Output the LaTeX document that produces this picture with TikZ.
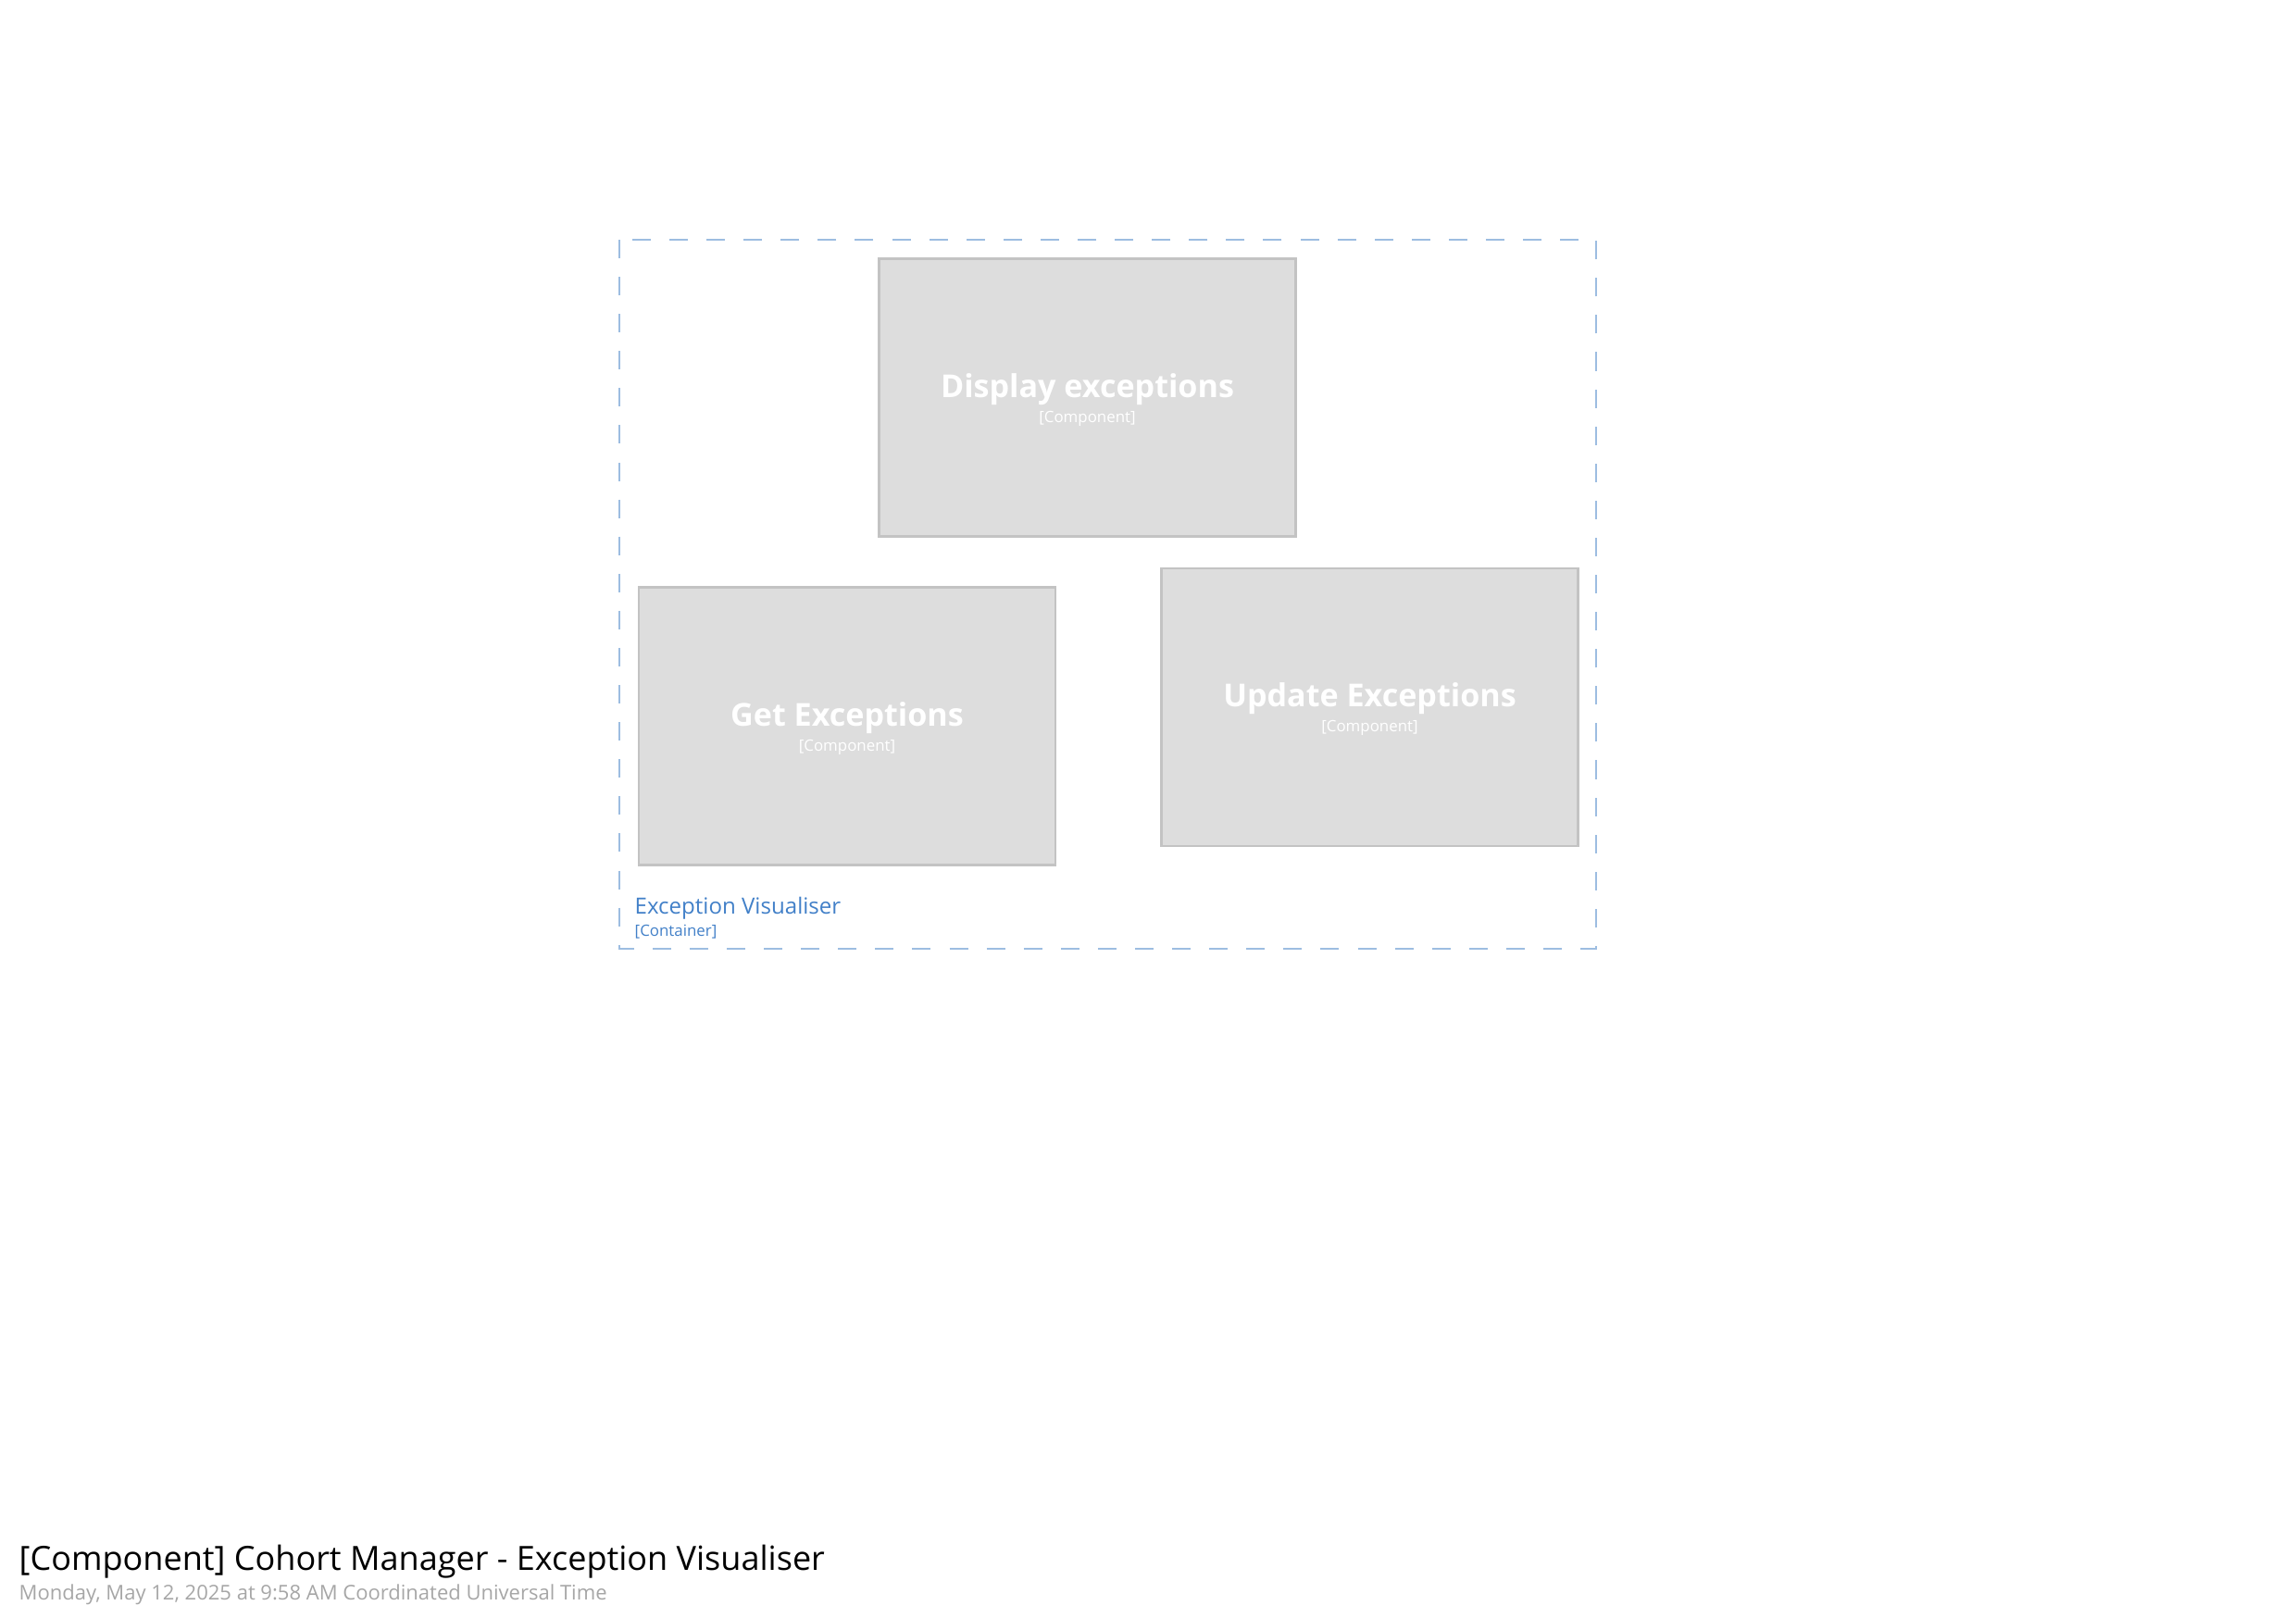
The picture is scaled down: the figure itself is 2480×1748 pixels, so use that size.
\documentclass[tikz,border=0pt]{standalone}
\usepackage{fontspec}
\setmainfont{Open Sans}
\usepackage{tikz}
\usetikzlibrary{positioning}

\definecolor{boxfill}{HTML}{DDDDDD}
\definecolor{boxline}{HTML}{C3C3C3}
\definecolor{dashblue}{HTML}{9DBDE1}
\definecolor{labelblue}{HTML}{4280C8}
\definecolor{dategray}{HTML}{A6A6A6}

\begin{document}
\begin{tikzpicture}[x=0.01cm, y=-0.01cm,
    component/.style={draw=boxline, line width=0.7pt, fill=boxfill,
        minimum width=4.5cm, minimum height=3cm, inner sep=0pt,
        align=center, text=white},
    label/.style={anchor=base west, inner sep=0pt}]

    \useasboundingbox (0,0) rectangle (2480,1748);

    % ============================================================
    % CONTAINER BOUNDARY
    % ============================================================
    \draw[dashblue, line width=0.6pt, dash pattern=on 5.7pt off 5.7pt]
        (669,259) rectangle (1724,1025);
    \node[label, text=labelblue] (boundary) at (685,987)
        {\fontsize{6.85}{8}\selectfont Exception Visualiser};
    \node[label, text=labelblue] (kind) at (685,1011)
        {\fontsize{4.8}{6}\selectfont [Container]};

    % ============================================================
    % COMPONENTS
    % ============================================================
    \node[component] (display) at (1174.5,429.5)
        {\rule{0pt}{8.8pt}{\fontsize{9.7}{12}\selectfont\bfseries Display exceptions}\\[-4.3pt]
         {\fontsize{4.8}{6}\selectfont [Component]}};
    \node[component] (get) at (915,784.5)
        {\rule{0pt}{8.8pt}{\fontsize{9.7}{12}\selectfont\bfseries Get Exceptions}\\[-4.3pt]
         {\fontsize{4.8}{6}\selectfont [Component]}};
    \node[component] (update) at (1479.5,764)
        {\rule{0pt}{8.8pt}{\fontsize{9.7}{12}\selectfont\bfseries Update Exceptions}\\[-4.3pt]
         {\fontsize{4.8}{6}\selectfont [Component]}};

    % ============================================================
    % TITLE AND DATE
    % ============================================================
    \node[label] (title) at (20,1696)
        {\fontsize{10.25}{12}\selectfont [Component] Cohort Manager - Exception Visualiser};
    \node[label, text=dategray] (date) at (20,1728)
        {\fontsize{6.26}{8}\selectfont Monday, May 12, 2025 at 9:58 AM Coordinated Universal Time};

\end{tikzpicture}
\end{document}
